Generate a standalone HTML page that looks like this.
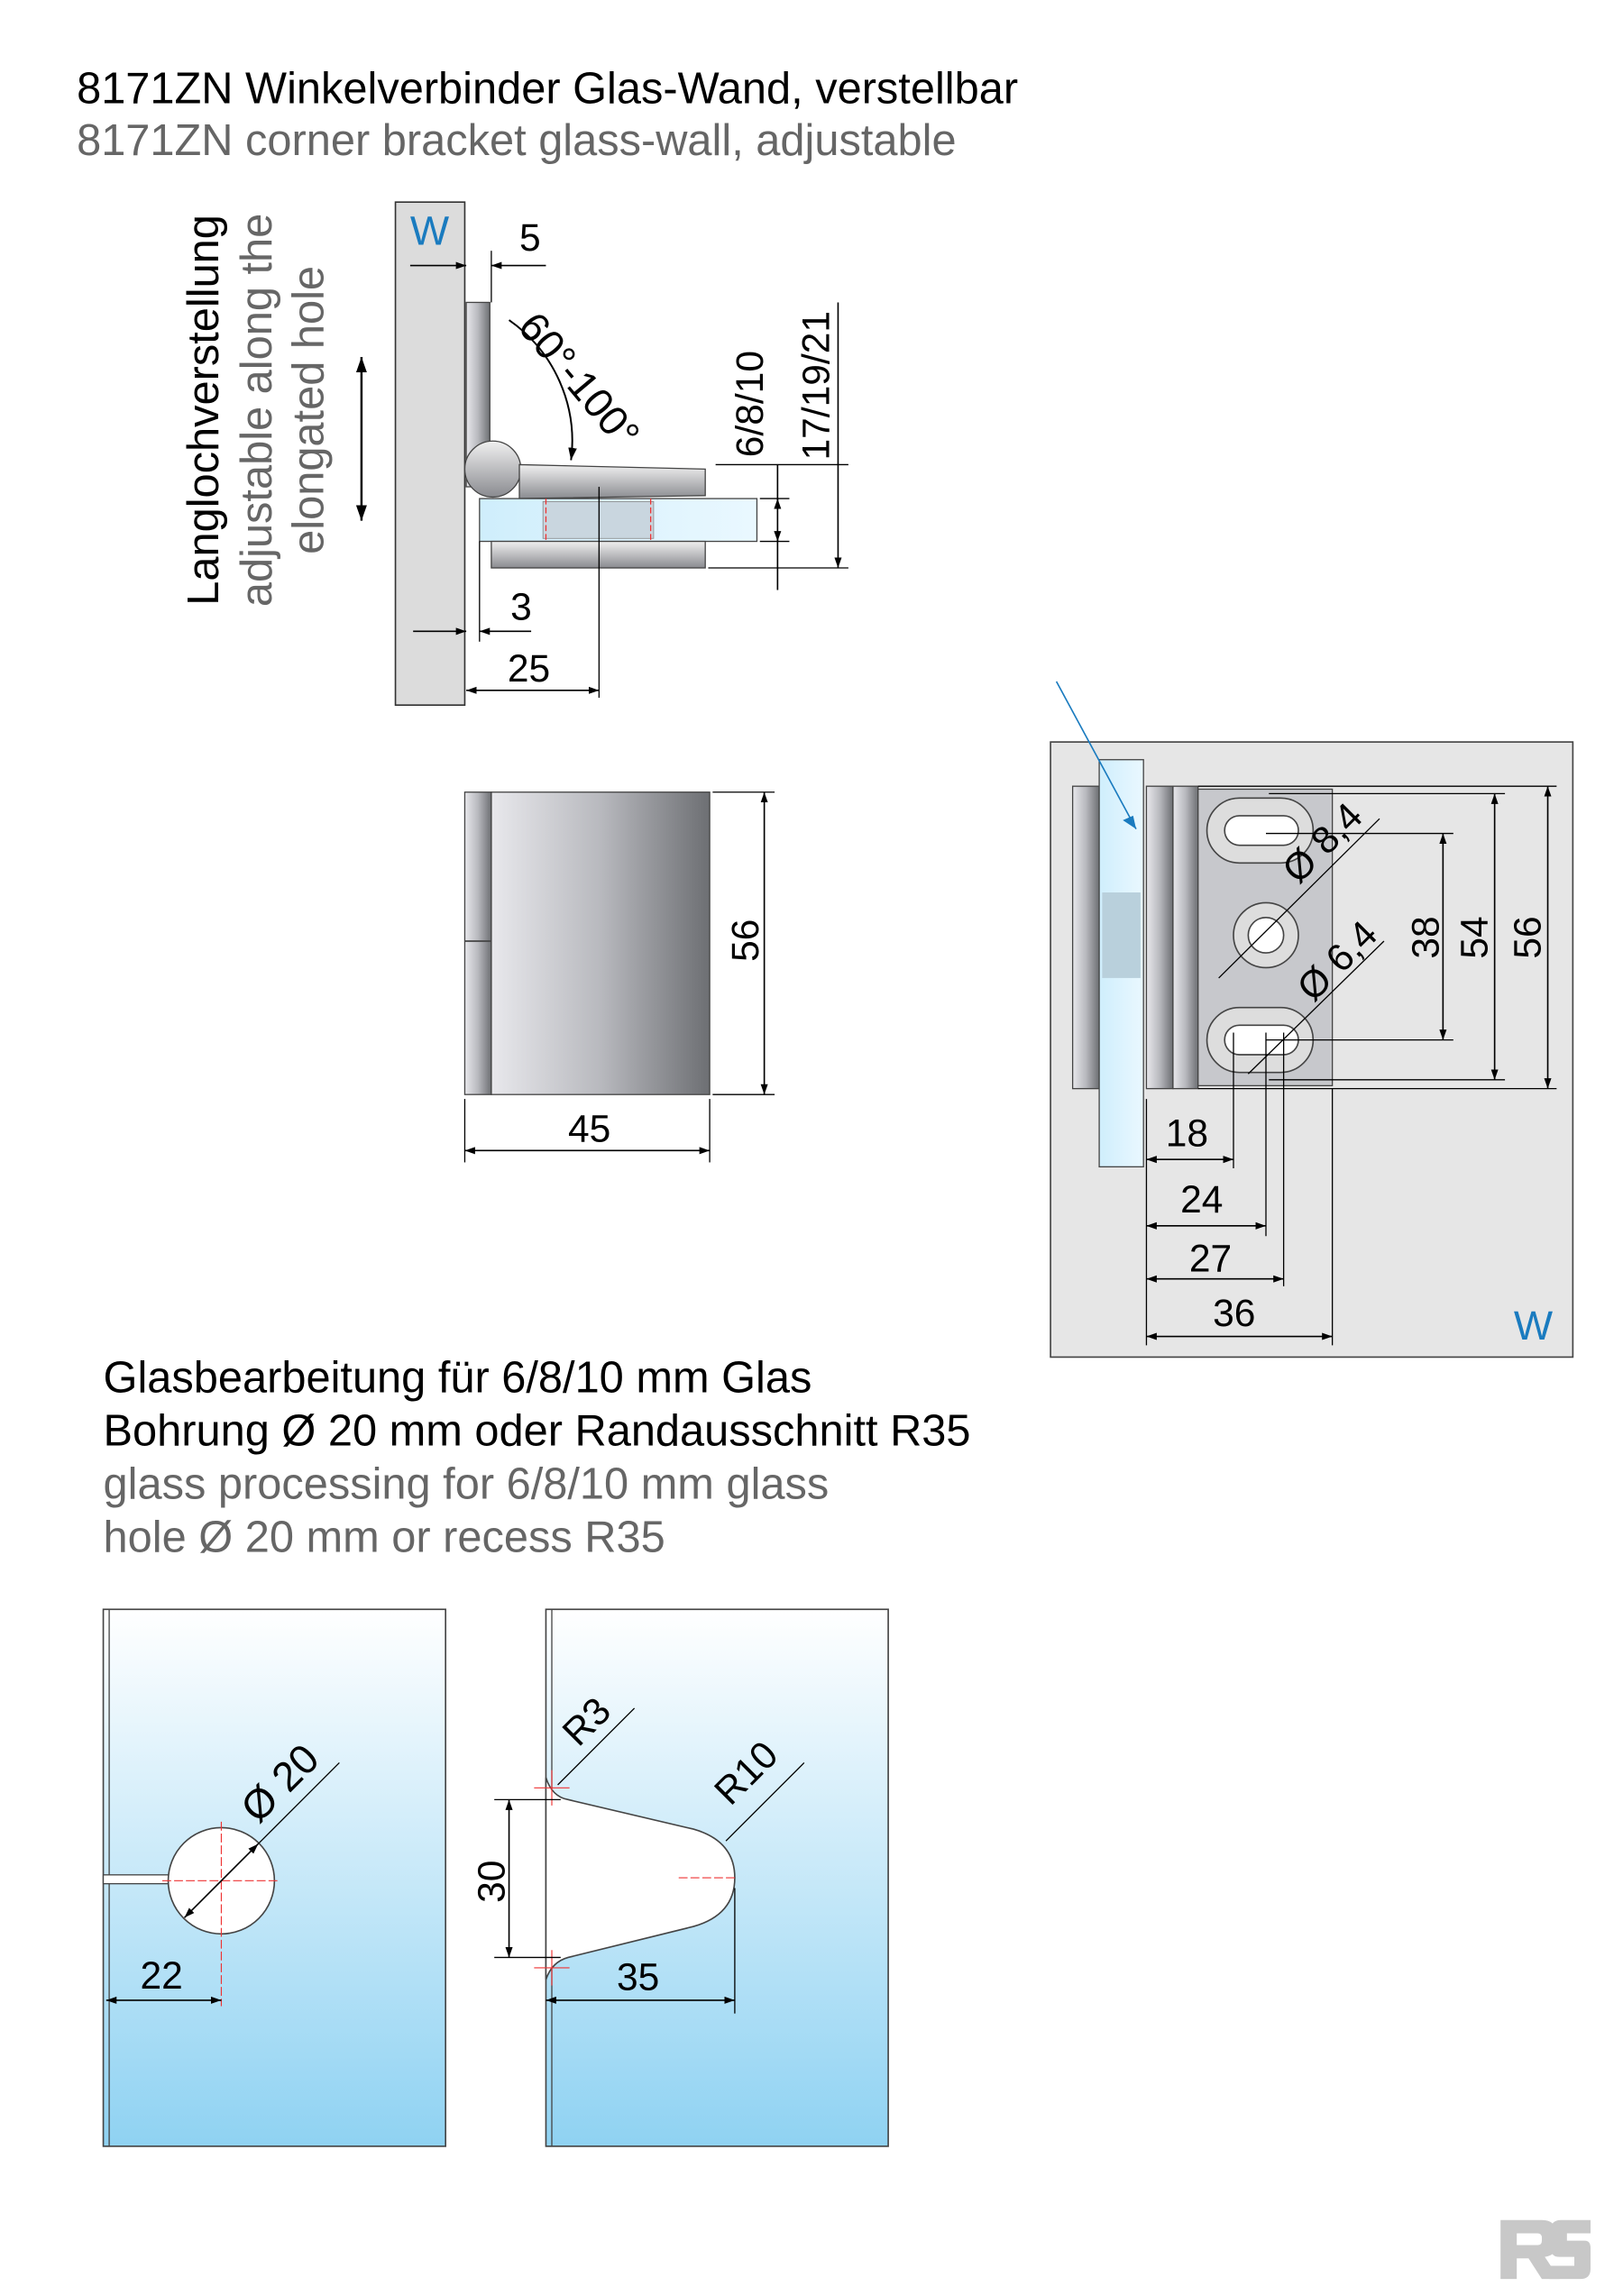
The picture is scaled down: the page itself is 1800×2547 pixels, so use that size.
<!DOCTYPE html>
<html><head><meta charset="utf-8"><style>
html,body{margin:0;padding:0;background:#fff}
svg{display:block}
text{font-family:"Liberation Sans",sans-serif}
</style></head><body>
<svg width="1800" height="2547" viewBox="0 0 1100 1556.5" xmlns="http://www.w3.org/2000/svg">
<defs>
<marker id="a" viewBox="0 0 10 10" refX="10" refY="5" markerWidth="7" markerHeight="7" orient="auto-start-reverse"><path d="M0,1.5 L10,5 L0,8.5 z" fill="#000"/></marker>
<linearGradient id="met" x1="0" x2="1" y1="0" y2="0"><stop offset="0" stop-color="#e8e8ec"/><stop offset="0.5" stop-color="#b8b9be"/><stop offset="1" stop-color="#6d6f73"/></linearGradient>
<linearGradient id="metv" x1="0" x2="0" y1="0" y2="1"><stop offset="0" stop-color="#f0f0f0"/><stop offset="1" stop-color="#8a8b90"/></linearGradient>
<linearGradient id="gl" x1="0" x2="0" y1="0" y2="1"><stop offset="0" stop-color="#ffffff"/><stop offset="1" stop-color="#8fd2f2"/></linearGradient>
<linearGradient id="glh" x1="0" x2="1" y1="0" y2="0"><stop offset="0" stop-color="#cfeefc"/><stop offset="1" stop-color="#eaf8ff"/></linearGradient>
</defs>
<text x="52" y="70" font-size="29.8" fill="#000">8171ZN Winkelverbinder Glas-Wand, verstellbar</text>
<text x="52" y="105" font-size="29.8" fill="#666">8171ZN corner bracket glass-wall, adjustable</text>

<g font-size="29.8" text-anchor="middle">
<text transform="translate(148,278) rotate(-90)" fill="#000">Langlochverstellung</text>
<text transform="translate(184,278) rotate(-90)" fill="#666">adjustable along the</text>
<text transform="translate(219,278) rotate(-90)" fill="#666">elongated hole</text>
</g>
<line x1="245" y1="242" x2="245" y2="353" stroke="#000" stroke-width="1.5" marker-start="url(#a)" marker-end="url(#a)"/>

<rect x="268" y="137" width="47" height="341" fill="#dcdcdc" stroke="#333" stroke-width="1"/>
<text x="278" y="166" font-size="28" fill="#1a7bbf">W</text>
<rect x="316" y="205" width="16" height="125" fill="url(#met)" stroke="#444" stroke-width="0.8"/>
<circle cx="334" cy="318" r="19" fill="url(#metv)" stroke="#444" stroke-width="0.8"/>
<path d="M352,315 L478,318 L478,336 L352,338 z" fill="url(#metv)" stroke="#444" stroke-width="0.8"/>
<rect x="325" y="338" width="188" height="29" fill="url(#glh)" stroke="#444" stroke-width="0.8"/>
<rect x="368" y="340" width="75" height="25" fill="#c9d6df" stroke="#888" stroke-width="0.5"/>
<line x1="370" y1="338" x2="370" y2="367" stroke="#e33" stroke-width="0.8" stroke-dasharray="4,2"/>
<line x1="441" y1="338" x2="441" y2="367" stroke="#e33" stroke-width="0.8" stroke-dasharray="4,2"/>
<rect x="333" y="367" width="145" height="18" fill="url(#metv)" stroke="#444" stroke-width="0.8"/>
<line x1="406" y1="330" x2="406" y2="473" stroke="#000" stroke-width="0.8"/>
<text x="352" y="170" font-size="26">5</text>
<line x1="278" y1="180" x2="316" y2="180" stroke="#000" stroke-width="1" marker-end="url(#a)"/>
<line x1="370" y1="180" x2="333" y2="180" stroke="#000" stroke-width="1" marker-end="url(#a)"/>
<line x1="333" y1="170" x2="333" y2="205" stroke="#000" stroke-width="0.8"/>
<text transform="translate(350,222) rotate(50)" font-size="28">60°-100°</text>
<path d="M345,217 A100,100 0 0 1 387,312" fill="none" stroke="#000" stroke-width="1.2" marker-end="url(#a)"/>
<text transform="translate(517,310) rotate(-90)" font-size="26">6/8/10</text>
<text transform="translate(562,312) rotate(-90)" font-size="26">17/19/21</text>
<line x1="485" y1="315" x2="575" y2="315" stroke="#000" stroke-width="0.8"/>
<line x1="515" y1="338" x2="535" y2="338" stroke="#000" stroke-width="0.8"/>
<line x1="515" y1="367" x2="535" y2="367" stroke="#000" stroke-width="0.8"/>
<line x1="480" y1="385" x2="575" y2="385" stroke="#000" stroke-width="0.8"/>
<line x1="527" y1="315" x2="527" y2="400" stroke="#000" stroke-width="1"/>
<line x1="527" y1="345" x2="527" y2="338" stroke="#000" stroke-width="1" marker-end="url(#a)"/>
<line x1="527" y1="360" x2="527" y2="367" stroke="#000" stroke-width="1" marker-end="url(#a)"/>
<line x1="568" y1="205" x2="568" y2="385" stroke="#000" stroke-width="1" marker-end="url(#a)"/>
<text x="346" y="420" font-size="26">3</text>
<line x1="280" y1="428" x2="316" y2="428" stroke="#000" stroke-width="1" marker-end="url(#a)"/>
<line x1="360" y1="428" x2="325" y2="428" stroke="#000" stroke-width="1" marker-end="url(#a)"/>
<line x1="325" y1="367" x2="325" y2="435" stroke="#000" stroke-width="0.8"/>
<text x="344" y="462" font-size="26">25</text>
<line x1="316" y1="468" x2="406" y2="468" stroke="#000" stroke-width="1" marker-start="url(#a)" marker-end="url(#a)"/>

<rect x="315" y="537" width="18" height="205" fill="url(#met)" stroke="#444" stroke-width="0.8"/>
<line x1="315" y1="638" x2="333" y2="638" stroke="#444" stroke-width="1"/>
<rect x="333" y="537" width="148" height="205" fill="url(#met)" stroke="#444" stroke-width="0.8"/>
<line x1="483" y1="537" x2="525" y2="537" stroke="#000" stroke-width="0.8"/>
<line x1="483" y1="742" x2="525" y2="742" stroke="#000" stroke-width="0.8"/>
<line x1="518" y1="537" x2="518" y2="742" stroke="#000" stroke-width="1" marker-start="url(#a)" marker-end="url(#a)"/>
<text transform="translate(514,652) rotate(-90)" font-size="26">56</text>
<line x1="315" y1="745" x2="315" y2="788" stroke="#000" stroke-width="0.8"/>
<line x1="481" y1="745" x2="481" y2="788" stroke="#000" stroke-width="0.8"/>
<line x1="315" y1="780" x2="481" y2="780" stroke="#000" stroke-width="1" marker-start="url(#a)" marker-end="url(#a)"/>
<text x="385" y="774" font-size="26">45</text>

<rect x="712" y="503" width="354" height="417" fill="#e6e6e6" stroke="#444" stroke-width="1"/>
<rect x="727" y="533" width="18" height="205" fill="url(#met)" stroke="#444" stroke-width="0.8"/>
<rect x="745" y="515" width="30" height="276" fill="url(#glh)" stroke="#444" stroke-width="0.8"/>
<rect x="747" y="605" width="26" height="58" fill="#b9d0dc"/>
<rect x="777" y="533" width="18" height="205" fill="url(#met)" stroke="#444" stroke-width="0.8"/>
<rect x="795" y="533" width="17" height="205" fill="url(#met)" stroke="#444" stroke-width="0.8"/>
<rect x="812" y="535" width="91" height="201" fill="#c7c8cc" stroke="#444" stroke-width="0.8"/>
<rect x="818" y="541" width="72" height="44" rx="22" fill="#ddd" stroke="#444"/>
<rect x="830" y="553" width="50" height="20" rx="10" fill="#fff" stroke="#444"/>
<rect x="818" y="683" width="72" height="44" rx="22" fill="#ddd" stroke="#444"/>
<rect x="830" y="695" width="50" height="20" rx="10" fill="#fff" stroke="#444"/>
<circle cx="858" cy="634" r="22" fill="#ddd" stroke="#444"/>
<circle cx="858" cy="634" r="12" fill="#fff" stroke="#444"/>
<line x1="716" y1="462" x2="770" y2="562" stroke="#1a7bbf" stroke-width="1"/>
<path d="M770,562 l-9,-6 l7,-3 z" fill="#1a7bbf"/>
<g stroke="#000" stroke-width="0.8">
<line x1="812" y1="533" x2="1055" y2="533"/><line x1="812" y1="738" x2="1055" y2="738"/>
<line x1="858" y1="565" x2="985" y2="565"/><line x1="858" y1="705" x2="985" y2="705"/>
<line x1="860" y1="538" x2="1020" y2="538"/><line x1="860" y1="732" x2="1020" y2="732"/>
<line x1="777" y1="745" x2="777" y2="912"/><line x1="836" y1="700" x2="836" y2="792"/>
<line x1="858" y1="700" x2="858" y2="838"/><line x1="870" y1="700" x2="870" y2="872"/>
<line x1="903" y1="738" x2="903" y2="912"/>
<line x1="826" y1="663" x2="935" y2="555"/><line x1="846" y1="728" x2="938" y2="638"/>
</g>
<line x1="978" y1="565" x2="978" y2="705" stroke="#000" stroke-width="1" marker-start="url(#a)" marker-end="url(#a)"/>
<line x1="1013" y1="538" x2="1013" y2="732" stroke="#000" stroke-width="1" marker-start="url(#a)" marker-end="url(#a)"/>
<line x1="1049" y1="533" x2="1049" y2="738" stroke="#000" stroke-width="1" marker-start="url(#a)" marker-end="url(#a)"/>
<text transform="translate(975,650) rotate(-90)" font-size="26">38</text>
<text transform="translate(1008,650) rotate(-90)" font-size="26">54</text>
<text transform="translate(1044,650) rotate(-90)" font-size="26">56</text>
<text transform="translate(880,600) rotate(-45)" font-size="26">Ø 8,4</text>
<text transform="translate(890,680) rotate(-45)" font-size="26">Ø 6,4</text>
<line x1="777" y1="786" x2="836" y2="786" stroke="#000" stroke-width="1" marker-start="url(#a)" marker-end="url(#a)"/>
<line x1="777" y1="831" x2="858" y2="831" stroke="#000" stroke-width="1" marker-start="url(#a)" marker-end="url(#a)"/>
<line x1="777" y1="867" x2="870" y2="867" stroke="#000" stroke-width="1" marker-start="url(#a)" marker-end="url(#a)"/>
<line x1="777" y1="906" x2="903" y2="906" stroke="#000" stroke-width="1" marker-start="url(#a)" marker-end="url(#a)"/>
<text x="790" y="777" font-size="26">18</text>
<text x="800" y="822" font-size="26">24</text>
<text x="806" y="862" font-size="26">27</text>
<text x="822" y="899" font-size="26">36</text>
<text x="1026" y="908" font-size="28" fill="#1a7bbf">W</text>

<text x="70" y="944" font-size="29.8">Glasbearbeitung für 6/8/10 mm Glas</text>
<text x="70" y="980" font-size="29.8">Bohrung Ø 20 mm oder Randausschnitt R35</text>
<text x="70" y="1016" font-size="29.8" fill="#666">glass processing for 6/8/10 mm glass</text>
<text x="70" y="1052" font-size="29.8" fill="#666">hole Ø 20 mm or recess R35</text>

<rect x="70" y="1091" width="232" height="364" fill="url(#gl)" stroke="#444" stroke-width="1"/>
<line x1="74" y1="1091" x2="74" y2="1455" stroke="#444" stroke-width="0.8"/>
<rect x="70" y="1271" width="50" height="6" fill="#fff" stroke="#444" stroke-width="0.8"/>
<circle cx="150" cy="1275" r="36" fill="#fff" stroke="#444" stroke-width="1"/>
<line x1="110" y1="1275" x2="190" y2="1275" stroke="#e33" stroke-width="0.7" stroke-dasharray="6,2"/>
<line x1="150" y1="1235" x2="150" y2="1360" stroke="#e33" stroke-width="0.7" stroke-dasharray="6,2"/>
<line x1="125" y1="1300" x2="175" y2="1250" stroke="#000" stroke-width="1" marker-start="url(#a)" marker-end="url(#a)"/>
<line x1="175" y1="1250" x2="230" y2="1195" stroke="#000" stroke-width="0.8"/>
<text transform="translate(175,1237) rotate(-45)" font-size="28">Ø 20</text>
<line x1="72" y1="1356" x2="150" y2="1356" stroke="#000" stroke-width="1" marker-start="url(#a)" marker-end="url(#a)"/>
<text x="95" y="1348" font-size="26">22</text>

<rect x="370" y="1091" width="232" height="364" fill="url(#gl)" stroke="#444" stroke-width="1"/>
<line x1="374" y1="1091" x2="374" y2="1455" stroke="#444" stroke-width="0.8"/>
<path d="M370,1205 Q374,1218 385,1220 L470,1240 Q498,1248 498,1273 Q498,1298 470,1306 L385,1327 Q374,1330 370,1342 z" fill="#fff" stroke="#444" stroke-width="1"/>
<line x1="460" y1="1273" x2="498" y2="1273" stroke="#e33" stroke-width="0.7" stroke-dasharray="6,2"/>
<line x1="362" y1="1212" x2="386" y2="1212" stroke="#e33" stroke-width="0.7"/>
<line x1="374" y1="1200" x2="374" y2="1224" stroke="#e33" stroke-width="0.7"/>
<line x1="362" y1="1334" x2="386" y2="1334" stroke="#e33" stroke-width="0.7"/>
<line x1="374" y1="1322" x2="374" y2="1346" stroke="#e33" stroke-width="0.7"/>
<line x1="335" y1="1220" x2="380" y2="1220" stroke="#000" stroke-width="0.8"/>
<line x1="335" y1="1327" x2="380" y2="1327" stroke="#000" stroke-width="0.8"/>
<line x1="345" y1="1220" x2="345" y2="1327" stroke="#000" stroke-width="1" marker-start="url(#a)" marker-end="url(#a)"/>
<text transform="translate(342,1290) rotate(-90)" font-size="26">30</text>
<line x1="378" y1="1210" x2="430" y2="1158" stroke="#000" stroke-width="0.8"/>
<text transform="translate(392,1185) rotate(-45)" font-size="26">R3</text>
<line x1="492" y1="1248" x2="545" y2="1195" stroke="#000" stroke-width="0.8"/>
<text transform="translate(495,1225) rotate(-45)" font-size="26">R10</text>
<line x1="498" y1="1280" x2="498" y2="1365" stroke="#000" stroke-width="0.8"/>
<line x1="370" y1="1356" x2="498" y2="1356" stroke="#000" stroke-width="1" marker-start="url(#a)" marker-end="url(#a)"/>
<text x="418" y="1349" font-size="26">35</text>

<g fill="#c8c8c8">
<path d="M1017,1505 h28 q10,0 10,10 v6 q0,8 -8,9 l10,15 h-12 l-9,-14 h-8 v14 h-11 z M1028,1514 v8 h14 q3,0 3,-3 v-2 q0,-3 -3,-3 z"/>
<path d="M1058,1505 h20 v9 h-16 v5 h12 q4,0 4,5 v14 q0,7 -7,7 h-21 v-9 h17 v-6 h-10 q-6,0 -6,-6 v-12 q0,-7 7,-7 z"/>
</g>
</svg>
</body></html>
